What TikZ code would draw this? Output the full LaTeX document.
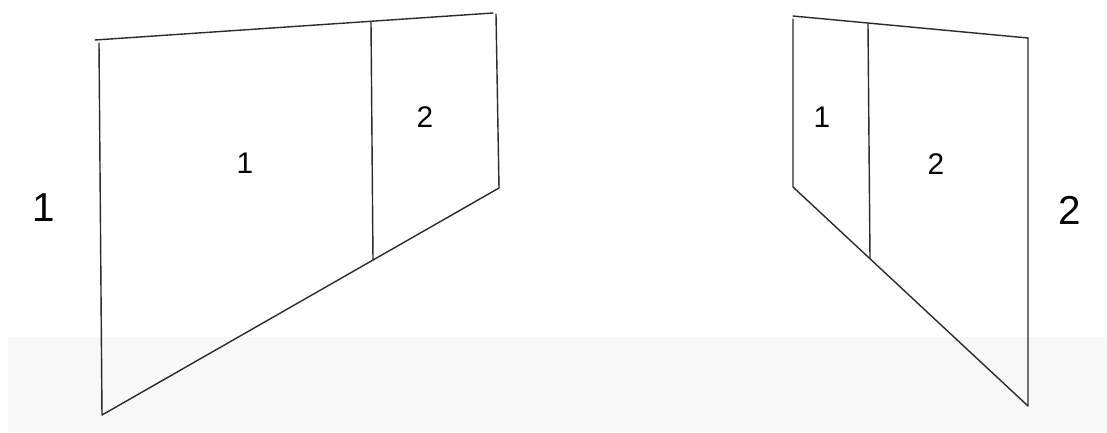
\documentclass[tikz,border=0pt]{standalone}
\usepackage{fontspec}
\setmainfont{Liberation Sans}
\definecolor{inkline}{HTML}{2B2B2B}
\definecolor{floorbg}{HTML}{F8F8F8}
\tikzset{
  wall/.style={draw=inkline, line width=0.8pt, line cap=round, line join=round},
  seclbl/.style={font=\fontsize{17}{19}\selectfont, text=black, inner sep=0pt},
  sidelbl/.style={font=\fontsize{23}{25}\selectfont, text=black, inner sep=0pt},
}

\begin{document}
\begin{tikzpicture}[x=0.02cm, y=-0.02cm]
  \useasboundingbox (0,0) rectangle (1107,433);
  \fill[floorbg] (8,337) rectangle (1107,432);

  % left wall
  \coordinate (lA) at (95,40);
  \coordinate (lB) at (493,13);
  \coordinate (lC) at (99,43);
  \coordinate (lD) at (102,415);
  \coordinate (lE) at (499,188);
  \coordinate (lF) at (496,14);
  \coordinate (lG) at (371,22);
  \coordinate (lH) at (373,260);
  \draw[wall] (lA) -- (lB);
  \draw[wall] (lC) -- (lD) -- (lE) -- (lF);
  \draw[wall] (lG) -- (lH);

  \node[seclbl] (lone) at (245,163) {1};
  \node[seclbl] (ltwo) at (425,117) {2};
  \node[sidelbl] (lside) at (44,208) {1};

  % right wall
  \coordinate (rA) at (793,16);
  \coordinate (rB) at (1028,38);
  \coordinate (rC) at (793,19);
  \coordinate (rD) at (793,187);
  \coordinate (rE) at (1028,406);
  \coordinate (rG) at (868,24);
  \coordinate (rH) at (870,258);
  \draw[wall] (rA) -- (rB);
  \draw[wall] (rC) -- (rD) -- (rE) -- (rB);
  \draw[wall] (rG) -- (rH);

  \node[seclbl] (rone) at (822,117) {1};
  \node[seclbl] (rtwo) at (936,164) {2};
  \node[sidelbl] (rside) at (1070,210) {2};
\end{tikzpicture}
\end{document}
